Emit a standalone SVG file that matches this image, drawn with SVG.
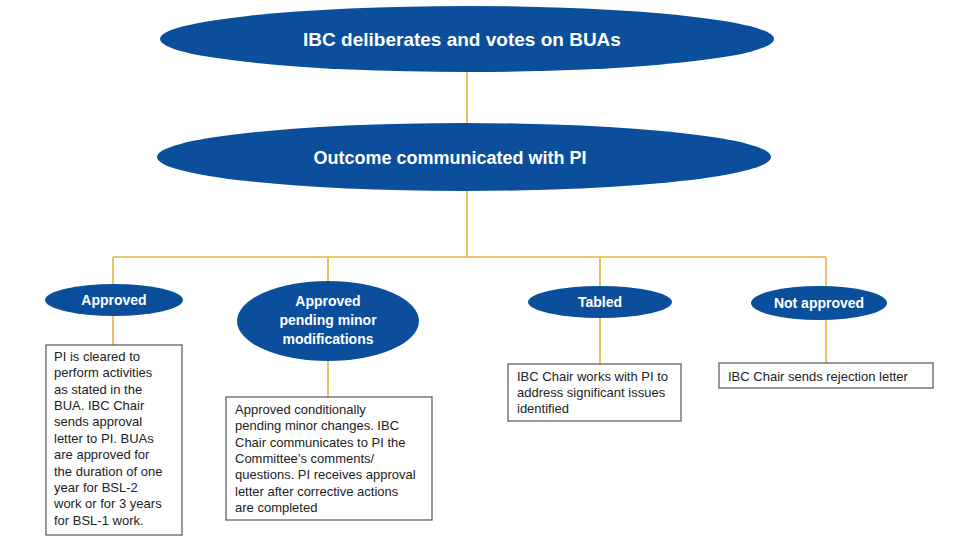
<svg xmlns="http://www.w3.org/2000/svg" width="968" height="539" viewBox="0 0 968 539">
<style>
.e{fill:#0b4f9c}
.t{fill:#fff;font-family:"Liberation Sans",Arial,sans-serif;font-weight:bold;text-anchor:middle}
.b{fill:#fff;stroke:#555;stroke-width:1.2}
.x{fill:#222;font-family:"Liberation Sans",Arial,sans-serif;font-size:13px}
.c{stroke:#e8b23c;stroke-width:1.6;fill:none}
</style>
<rect width="968" height="539" fill="#fff"/>
<g id="connectors">
<path class="c" d="M467 72V123M467 191V257M113 257H826M113 257V284M328 257V281M600 257V286M826 257V286M113 316V345M328 361V397M600 318V364M826 320V363"/>
</g>
<g id="n1"><ellipse class="e" cx="467" cy="39" rx="307" ry="33"/><text class="t" x="462" y="46" font-size="19">IBC deliberates and votes on BUAs</text></g>
<g id="n2"><ellipse class="e" cx="464" cy="157" rx="307" ry="34"/><text class="t" x="450" y="164" font-size="18">Outcome communicated with PI</text></g>
<g id="n3"><ellipse class="e" cx="114" cy="300" rx="69" ry="16"/><text class="t" x="114" y="305" font-size="14">Approved</text></g>
<g id="n4"><ellipse class="e" cx="328" cy="321" rx="91" ry="40"/><text class="t" font-size="14"><tspan x="328" y="306">Approved</tspan><tspan x="328" y="325">pending minor</tspan><tspan x="328" y="344">modifications</tspan></text></g>
<g id="n5"><ellipse class="e" cx="600" cy="302" rx="72" ry="16"/><text class="t" x="600" y="307" font-size="14">Tabled</text></g>
<g id="n6"><ellipse class="e" cx="819" cy="303" rx="68" ry="17"/><text class="t" x="819" y="308" font-size="14">Not approved</text></g>
<g id="b1"><rect class="b" x="46" y="345" width="136" height="190"/><text class="x"><tspan x="54" y="361">PI is cleared to</tspan><tspan x="54" y="377">perform activities</tspan><tspan x="54" y="394">as stated in the</tspan><tspan x="54" y="410">BUA. IBC Chair</tspan><tspan x="54" y="426">sends approval</tspan><tspan x="54" y="443">letter to PI. BUAs</tspan><tspan x="54" y="459">are approved for</tspan><tspan x="54" y="476">the duration of one</tspan><tspan x="54" y="492">year for BSL-2</tspan><tspan x="54" y="508">work or for 3 years</tspan><tspan x="54" y="525">for BSL-1 work.</tspan></text></g>
<g id="b2"><rect class="b" x="226" y="397" width="206" height="123"/><text class="x"><tspan x="235" y="414">Approved conditionally</tspan><tspan x="235" y="430">pending minor changes. IBC</tspan><tspan x="235" y="447">Chair communicates to PI the</tspan><tspan x="235" y="463">Committee’s comments/</tspan><tspan x="235" y="479">questions.  PI receives approval</tspan><tspan x="235" y="496">letter after corrective actions</tspan><tspan x="235" y="512">are completed</tspan></text></g>
<g id="b3"><rect class="b" x="508" y="364" width="173" height="57"/><text class="x"><tspan x="517" y="381">IBC Chair works with PI to</tspan><tspan x="517" y="397">address significant issues</tspan><tspan x="517" y="413">identified</tspan></text></g>
<g id="b4"><rect class="b" x="719" y="363" width="214" height="25"/><text class="x" x="728" y="381">IBC Chair sends rejection letter</text></g>
</svg>
